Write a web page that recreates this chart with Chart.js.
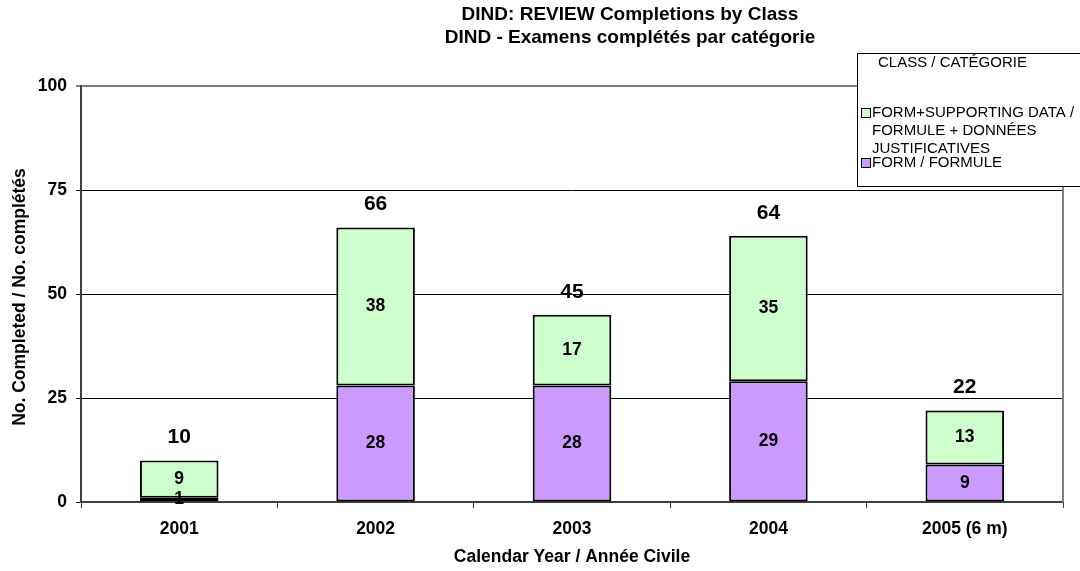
<!DOCTYPE html>
<html>
<head>
<meta charset="utf-8">
<script src="https://cdn.jsdelivr.net/npm/chart.js@4/dist/chart.umd.min.js"></script>
<style>
  html, body { margin: 0; padding: 0; background: #ffffff; }
  #wrap { width: 1080px; height: 571px; position: relative; }
</style>
</head>
<body>
<div id="wrap"><canvas id="chart" width="1080" height="571"></canvas></div>
<script>
// Completions per calendar year, split by review class
const years = ['2001', '2002', '2003', '2004', '2005 (6 m)'];
const formOnly = [1, 28, 28, 29, 9];
const formSupporting = [9, 38, 17, 35, 13];
const yearTotals = [10, 66, 45, 64, 22];
const yTickValues = [0, 25, 50, 75, 100];

const titleLines = ['DIND: REVIEW Completions by Class', 'DIND - Examens complétés par catégorie'];
const xAxisTitle = 'Calendar Year / Année Civile';
const yAxisTitle = 'No. Completed / No. complétés';
const legendTitle = 'CLASS / CATÉGORIE';
const supportingLegendLines = ['FORM+SUPPORTING DATA /', 'FORMULE + DONNÉES', 'JUSTIFICATIVES'];
const formLegendLines = ['FORM / FORMULE'];

const PURPLE = '#CC99FF';
const GREEN = '#CCFFCC';
const FONT = 'Arial, "Liberation Sans", Helvetica, sans-serif';

// Titles, axis titles, value labels and the boxed legend
const decorations = {
  id: 'decorations',
  afterDatasetsDraw(chart) {
    const ctx = chart.ctx;
    const area = chart.chartArea;
    ctx.save();

    // right edge of the plot frame
    ctx.strokeStyle = '#808080';
    ctx.lineWidth = 2;
    ctx.beginPath();
    ctx.moveTo(area.right, area.top);
    ctx.lineTo(area.right, area.bottom);
    ctx.stroke();

    // segment values
    ctx.fillStyle = '#000';
    ctx.textAlign = 'center';
    ctx.textBaseline = 'middle';
    ctx.font = 'bold 17.5px ' + FONT;
    chart.data.datasets.forEach((ds, di) => {
      const meta = chart.getDatasetMeta(di);
      meta.data.forEach((bar, i) => {
        const yMid = (bar.y + bar.base) / 2;
        ctx.fillText(String(ds.data[i]), bar.x, yMid);
      });
    });

    // totals above each stack
    ctx.font = 'bold 21px ' + FONT;
    const topMeta = chart.getDatasetMeta(1);
    const yScale = chart.scales.y;
    topMeta.data.forEach((bar, i) => {
      ctx.fillText(String(yearTotals[i]), bar.x, yScale.getPixelForValue(yearTotals[i]) - 23);
    });

    // chart title
    ctx.font = 'bold 19px ' + FONT;
    ctx.fillText(titleLines[0], 630, 15);
    ctx.fillText(titleLines[1], 630, 38);

    // axis titles
    ctx.font = 'bold 17.5px ' + FONT;
    ctx.fillText(xAxisTitle, (area.left + area.right) / 2, 557);
    ctx.save();
    ctx.translate(20, 297);
    ctx.rotate(-Math.PI / 2);
    ctx.fillText(yAxisTitle, 0, 0);
    ctx.restore();

    // legend box
    ctx.fillStyle = '#ffffff';
    ctx.fillRect(857, 53, 240, 134);
    ctx.strokeStyle = '#000000';
    ctx.lineWidth = 1;
    ctx.strokeRect(857.5, 53.5, 240, 133);

    ctx.fillStyle = '#000';
    ctx.textAlign = 'left';
    ctx.font = '15px ' + FONT;
    ctx.fillText(legendTitle, 878, 63);

    const swatch = (y, color) => {
      ctx.fillStyle = color;
      ctx.fillRect(861.5, y - 4.5, 9, 9);
      ctx.strokeStyle = '#000';
      ctx.strokeRect(861.5, y - 4.5, 9, 9);
      ctx.fillStyle = '#000';
    };
    swatch(113, GREEN);
    supportingLegendLines.forEach((t, k) => ctx.fillText(t, 872, 113 + k * 18));
    swatch(163, PURPLE);
    formLegendLines.forEach((t, k) => ctx.fillText(t, 872, 163 + k * 18));

    ctx.restore();
  }
};

new Chart(document.getElementById('chart'), {
  type: 'bar',
  data: {
    labels: years,
    datasets: [
      {
        label: formLegendLines.join(' '),
        data: formOnly,
        backgroundColor: PURPLE,
        borderColor: '#000000',
        borderWidth: 2,
        borderSkipped: false,
        categoryPercentage: 1,
        barPercentage: 0.4
      },
      {
        label: supportingLegendLines.join(' '),
        data: formSupporting,
        backgroundColor: GREEN,
        borderColor: '#000000',
        borderWidth: 2,
        borderSkipped: false,
        categoryPercentage: 1,
        barPercentage: 0.4
      }
    ]
  },
  options: {
    responsive: false,
    animation: false,
    devicePixelRatio: 1,
    layout: { padding: { top: 86, right: 17, left: 0, bottom: 0 } },
    plugins: {
      legend: { display: false },
      title: { display: false },
      tooltip: { enabled: false }
    },
    scales: {
      x: {
        stacked: true,
        afterFit(scale) { scale.height = 69; },
        grid: {
          display: true,
          drawOnChartArea: false,
          drawTicks: true,
          tickLength: 6,
          color: '#404040',
          lineWidth: 1
        },
        border: { display: true, color: '#404040', width: 2 },
        ticks: {
          color: '#000',
          font: { family: FONT, size: 17.5, weight: 'bold' },
          padding: 11,
          maxRotation: 0
        }
      },
      y: {
        stacked: true,
        min: 0,
        max: 100,
        afterFit(scale) { scale.width = 81; },
        afterBuildTicks(scale) { scale.ticks = yTickValues.map(v => ({ value: v })); },
        grid: {
          drawTicks: true,
          tickLength: 5,
          color: ctx => (ctx.tick && ctx.tick.value === 100 ? '#808080' : '#000000'),
          lineWidth: ctx => (ctx.tick && ctx.tick.value === 100 ? 2 : 1)
        },
        border: { display: true, color: '#404040', width: 2 },
        ticks: {
          color: '#000',
          font: { family: FONT, size: 17.5, weight: 'bold' },
          padding: 9
        }
      }
    }
  },
  plugins: [decorations]
});
</script>
</body>
</html>
